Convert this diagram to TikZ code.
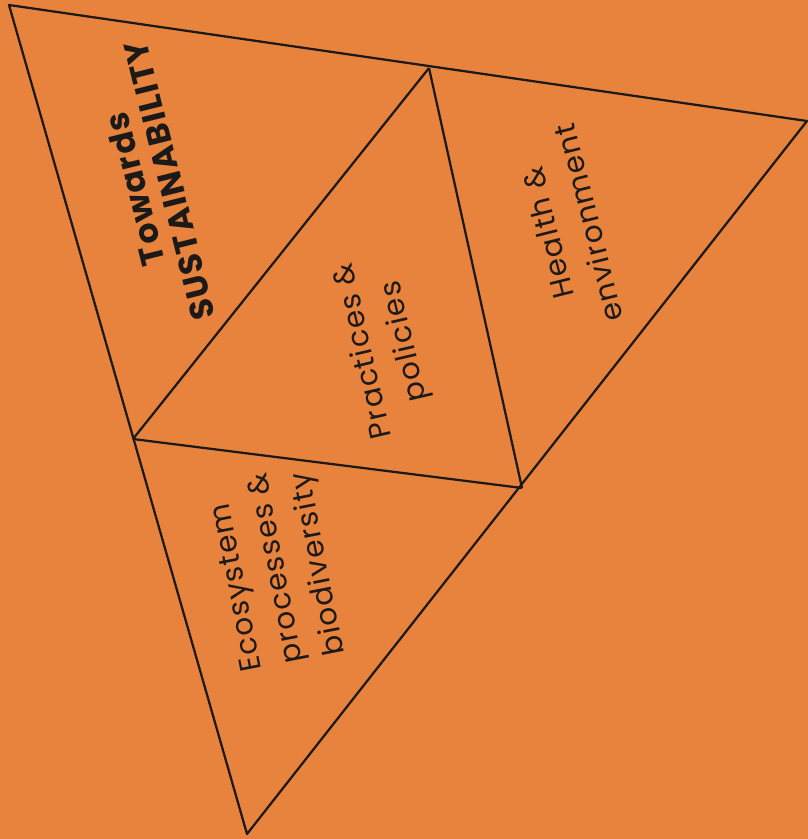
\documentclass[tikz,border=0pt]{standalone}
\usepackage{fontspec}
\setmainfont[LetterSpace=5]{Poppins}
\usepackage{tikz}
\usetikzlibrary{calc}
\definecolor{orangefond}{HTML}{E8833E}
\definecolor{encre}{HTML}{1C1A18}
\tikzset{
  cote/.style={draw=encre,line width=1.6pt,line join=round},
  texte/.style={text=encre,align=center,font=\fontsize{21}{30}\selectfont,inner sep=0pt},
}

\begin{document}
\begin{tikzpicture}
  \fill[orangefond] (0,0) rectangle (20.2,-20.975);
  \useasboundingbox (0,0) rectangle (20.2,-20.975);
  % sommets et milieux
  \coordinate (h) at (0.225,-0.125);
  \coordinate (d) at (20.175,-3.025);
  \coordinate (b) at (6.175,-20.85);
  \coordinate (hd) at (10.725,-1.7);
  \coordinate (hb) at (3.325,-10.975);
  \coordinate (db) at (13.05,-12.2);
  \draw[cote] (h)--(d)--(b)--cycle;
  \foreach \u/\v in {hd/hb,hb/db,db/hd} \draw[cote] (\u)--(\v);
  % textes
  \node[texte,rotate=104,font=\bfseries\fontsize{23.5}{25.5}\selectfont] (titre) at (3.8,-4.625) {Towards\\SUSTAINABILITY};
  \node[texte,rotate=103] (pratiques) at (9.625,-8.65) {Practices \&\\policies};
  \node[texte,rotate=104] (sante) at (14.2,-5.7) {Health \&\\environment};
  \node[texte,rotate=101,align=left] (ecosysteme) at (6.95,-14.2) {Ecosystem\\processes \&\\biodiversity};
\end{tikzpicture}
\end{document}
